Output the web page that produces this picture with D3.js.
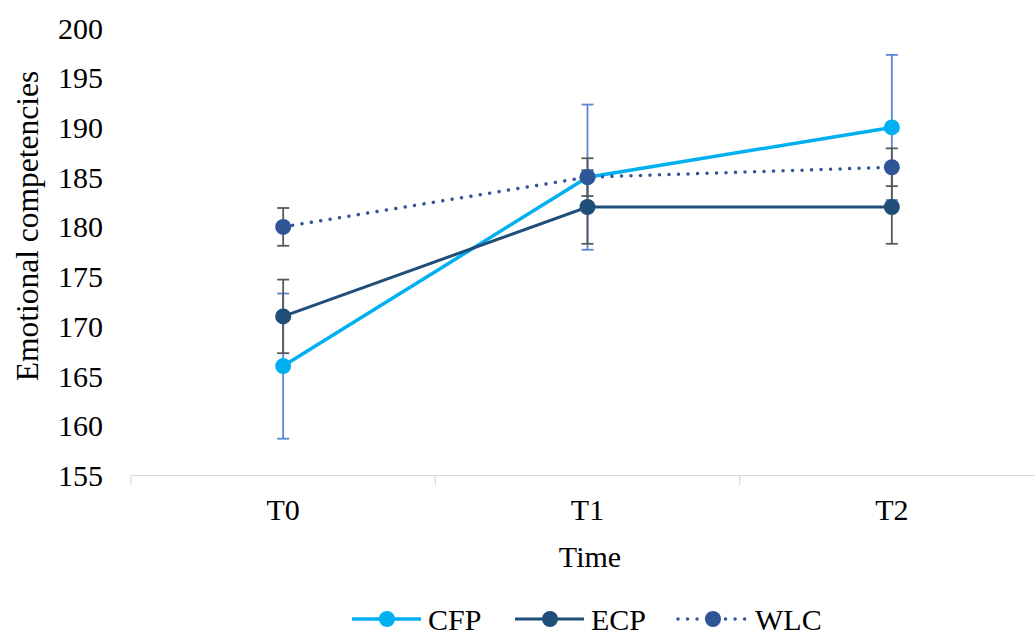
<!DOCTYPE html>
<html><head><meta charset="utf-8">
<script src="https://cdn.jsdelivr.net/npm/d3@7"></script>
<style>html,body{margin:0;padding:0;background:#fff;overflow:hidden}</style>
</head><body>
<svg id="c" width="1035" height="634"></svg>
<script>
const categories = ["T0", "T1", "T2"];
const seriesNames = ["CFP", "ECP", "WLC"];
const cfpValues = [166, 185, 190];
const ecpValues = [171, 182, 182];
const wlcValues = [180, 185, 186];
const cfpErrors = [7.3, 7.3, 7.3];
const ecpErrors = [3.7, 3.7, 3.7];
const wlcErrors = [1.9, 1.9, 1.9];
const yTicks = [155, 160, 165, 170, 175, 180, 185, 190, 195, 200];

const series = [
  {name: seriesNames[0], values: cfpValues, errors: cfpErrors, color: "#00B0F0", err: "#5A86D4", width: 3.5, dash: null},
  {name: seriesNames[1], values: ecpValues, errors: ecpErrors, color: "#1F4E79", err: "#595959", width: 3, dash: null},
  {name: seriesNames[2], values: wlcValues, errors: wlcErrors, color: "#2F5597", err: "#595959", width: 3.5, dash: "0.01 9.5"}
];

const svg = d3.select("#c");
const font = "'Liberation Serif', 'Times New Roman', serif";
const fs = 30;

const x = d3.scaleBand().domain(categories).range([131, 1044]);
const y = d3.scaleLinear().domain([155, 200]).range([475.5, 28]);
const cx = d => x(d) + x.bandwidth() / 2;

// y tick labels
svg.append("g").selectAll("text").data(yTicks).join("text")
  .attr("x", 103).attr("y", d => y(d)).attr("dy", "0.35em")
  .attr("text-anchor", "end").attr("font-family", font).attr("font-size", fs)
  .attr("fill", "#000").text(d => d);

// x axis
const xAxis = svg.append("g").attr("transform", "translate(0,475.5)")
  .call(d3.axisBottom(x).tickSize(0).tickFormat(""));
xAxis.select(".domain").attr("stroke", "#D9D9D9").attr("stroke-width", 1.2).attr("d", `M${x.range()[0]},0H${x.range()[1]}`);
const bounds = [0, 1, 2, 3].map(i => x.range()[0] + i * x.step());
svg.append("g").selectAll("line").data(bounds).join("line")
  .attr("x1", d => d).attr("x2", d => d).attr("y1", 475.5).attr("y2", 485)
  .attr("stroke", "#D9D9D9").attr("stroke-width", 1.2);
svg.append("g").selectAll("text").data(categories).join("text")
  .attr("x", d => cx(d)).attr("y", 520).attr("text-anchor", "middle")
  .attr("font-family", font).attr("font-size", fs).text(d => d);

// axis titles
svg.append("text").attr("x", 590).attr("y", 567).attr("text-anchor", "middle")
  .attr("font-family", font).attr("font-size", fs).text("Time");
svg.append("text").attr("transform", "translate(38,226) rotate(-90)")
  .attr("text-anchor", "middle").attr("font-family", font).attr("font-size", 31.5)
  .text("Emotional competencies");

// error bars
series.forEach(s => {
  const g = svg.append("g");
  categories.forEach((c, i) => {
    const v = s.values[i], e = s.errors[i], px = cx(c);
    g.append("line").attr("x1", px).attr("x2", px).attr("y1", y(v + e)).attr("y2", y(v - e))
      .attr("stroke", s.err).attr("stroke-width", 1.8);
    [v + e, v - e].forEach(t => g.append("line").attr("x1", px - 6).attr("x2", px + 6)
      .attr("y1", y(t)).attr("y2", y(t)).attr("stroke", s.err).attr("stroke-width", 1.8));
  });
});

// lines
const line = d3.line().x((d, i) => cx(categories[i])).y(d => y(d));
series.forEach(s => {
  svg.append("path").datum(s.values).attr("d", line).attr("fill", "none")
    .attr("stroke", s.color).attr("stroke-width", s.width)
    .attr("stroke-linecap", s.dash ? "round" : "butt")
    .attr("stroke-dasharray", s.dash);
});
// markers
series.forEach(s => {
  svg.append("g").selectAll("circle").data(s.values).join("circle")
    .attr("cx", (d, i) => cx(categories[i])).attr("cy", d => y(d)).attr("r", 8)
    .attr("fill", s.color);
});

// legend
const legX = [352, 515, 678];
const lg = svg.append("g");
series.forEach((s, i) => {
  const x0 = legX[i], yy = 619;
  lg.append("line").attr("x1", x0).attr("x2", x0 + 69).attr("y1", yy).attr("y2", yy)
    .attr("stroke", s.color).attr("stroke-width", s.width)
    .attr("stroke-linecap", s.dash ? "round" : "butt").attr("stroke-dasharray", s.dash);
  lg.append("circle").attr("cx", x0 + 35).attr("cy", yy).attr("r", 8).attr("fill", s.color);
  lg.append("text").attr("x", x0 + 76 + (i === 2 ? 1 : 0)).attr("y", yy).attr("dy", "0.35em")
    .attr("font-family", font).attr("font-size", fs).text(s.name);
});
</script>
</body></html>
